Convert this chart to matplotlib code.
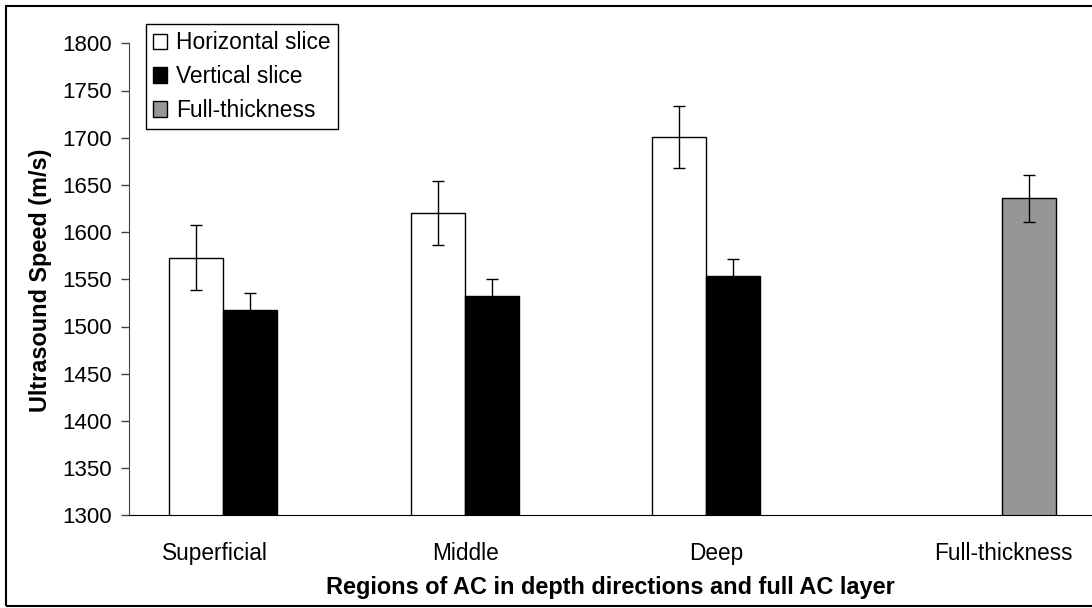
import numpy as np
import matplotlib.pyplot as plt
from matplotlib.patches import Rectangle, Patch

plt.rcParams['font.family'] = ['Liberation Sans', 'DejaVu Sans']

# data
regions = ['Superficial', 'Middle', 'Deep', 'Full-thickness']
horizontal = [1573, 1620, 1701]
horizontal_err = [34, 34, 33]
vertical = [1517, 1532, 1554]
vertical_err = [19, 18, 18]
full = [1636]
full_err = [25]

W, H = 1092, 608
fig = plt.figure(figsize=(W / 100, H / 100), dpi=100)

# outer frame around the chart
fig.patches.append(Rectangle((6 / W, 2 / H), 1.2, 1 - 8 / H, transform=fig.transFigure,
                             fill=False, edgecolor='black', linewidth=1.5))

ax = fig.add_axes([129 / W, (H - 515.3) / H, 1 - 129 / W, (515.3 - 43.3) / H])

width = 0.2234
x = np.arange(3)
ax.bar(x - width, horizontal, width, yerr=horizontal_err, color='white',
       edgecolor='black', linewidth=1, capsize=4.5,
       error_kw={'elinewidth': 1, 'capthick': 1}, label='Horizontal slice')
ax.bar(x, vertical, width, yerr=vertical_err, color='black',
       edgecolor='black', linewidth=1, capsize=4.5,
       error_kw={'elinewidth': 1, 'capthick': 1}, label='Vertical slice')
ax.bar([3 + width], full, width, yerr=full_err, color='#969696',
       edgecolor='black', linewidth=1, capsize=4.5,
       error_kw={'elinewidth': 1, 'capthick': 1}, label='Full-thickness')

ax.set_ylim(1300, 1800)
ax.set_xlim(-0.5, (W - 250) / 241.7)
ax.set_yticks(np.arange(1300, 1801, 50))
ax.tick_params(axis='y', direction='out', length=6, width=1, labelsize=16, pad=6,
               color='#404040')

# category labels sit where the original chart put them
ax.set_xticks([-0.145, 0.89, 1.928, 3.115])
ax.set_xticklabels(regions)
ax.tick_params(axis='x', length=0, labelsize=16.3, pad=19)

for s in ['top', 'right']:
    ax.spines[s].set_visible(False)
ax.spines['left'].set_color('#404040')
ax.spines['bottom'].set_color('black')

ax.set_xlabel('Regions of AC in depth directions and full AC layer',
              fontsize=16.9, fontweight='bold', va='center')
ax.xaxis.set_label_coords(0.5, -0.154)
ax.set_ylabel('Ultrasound Speed (m/s)', fontsize=16.9, fontweight='bold', va='center')
ax.yaxis.set_label_coords(-0.0924, 0.4985)

handles = [Patch(facecolor='white', edgecolor='black', linewidth=1),
           Patch(facecolor='black', edgecolor='black', linewidth=1),
           Patch(facecolor='#969696', edgecolor='black', linewidth=1)]
leg = fig.legend(handles, ['Horizontal slice', 'Vertical slice', 'Full-thickness'],
                 loc='upper left', bbox_to_anchor=(145.7 / W, 1 - 24.3 / H),
                 fontsize=16.4, frameon=True, fancybox=False, framealpha=1,
                 edgecolor='black', borderaxespad=0, borderpad=0.3,
                 handlelength=0.65, handleheight=0.65, handletextpad=0.4,
                 labelspacing=0.48)
leg.get_frame().set_linewidth(1)

fig.savefig('out.png', dpi=100)
